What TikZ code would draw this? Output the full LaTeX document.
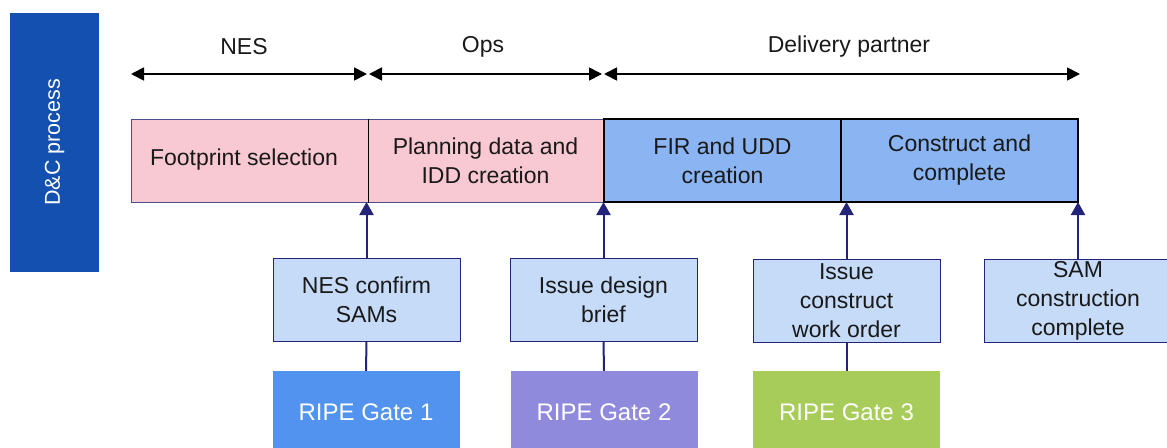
\documentclass[tikz,border=0pt]{standalone}
\usepackage{fontspec}
\setmainfont{Liberation Sans}
\usetikzlibrary{arrows.meta}

\definecolor{dcblue}{HTML}{1450B0}
\definecolor{pinkcell}{HTML}{F9C9D3}
\definecolor{bluecell}{HTML}{8AB4F2}
\definecolor{lightbox}{HTML}{C6DBF8}
\definecolor{navy}{HTML}{23237A}
\definecolor{pinkedge}{HTML}{4A4E8C}
\definecolor{gateone}{HTML}{5193EE}
\definecolor{gatetwo}{HTML}{8F8ADB}
\definecolor{gatethree}{HTML}{A8CC5A}

\tikzset{
  txt/.style={font=\fontsize{23}{29}\selectfont, text=black!90, align=center},
  cell/.style={txt, rectangle, minimum width=237pt, minimum height=83pt, inner sep=0pt},
  pinkbox/.style={cell, fill=pinkcell, draw=pinkedge, line width=1pt},
  bluebox/.style={cell, fill=bluecell, draw=black, line width=1.2pt},
  eventbox/.style={txt, rectangle, fill=lightbox, draw=navy, line width=1pt,
    minimum width=187pt, minimum height=83pt, inner sep=0pt},
  gatebox/.style={txt, rectangle, text=white, minimum width=187pt, minimum height=83pt,
    inner sep=0pt, font=\fontsize{24}{28}\selectfont},
  span/.style={line width=1.8pt, {Triangle[length=13pt,width=13pt]}-{Triangle[length=13pt,width=13pt]}},
  trigger/.style={navy, line width=2pt, -{Triangle[length=13pt,width=14pt]}},
  feed/.style={navy, line width=2pt},
}

\begin{document}
\begin{tikzpicture}[x=1pt,y=-1pt]
\useasboundingbox (0,0) rectangle (1167,447);
\clip (0,0) rectangle (1167,447);

% side banner
\node[rectangle, fill=dcblue, minimum width=89pt, minimum height=259pt, inner sep=0pt]
  (side) at (54.5,142.5) {};
\node[rotate=90, text=white, font=\fontsize{21.5}{25}\selectfont] (sidetxt) at (side.center) {D\&C process};

% ownership spans
\coordinate (nesL) at (131,74);
\coordinate (nesR) at (367,74);
\coordinate (opsL) at (369,74);
\coordinate (opsR) at (602,74);
\coordinate (dpL) at (604,74);
\coordinate (dpR) at (1080,74);
\draw[span] (nesL) -- (nesR);
\draw[span] (opsL) -- (opsR);
\draw[span] (dpL) -- (dpR);
\node[txt] (nes) at (244,47) {NES};
\node[txt] (ops) at (483,47) {Ops};
\node[txt] (dp) at (849,47) {Delivery partner};

% process stages
\node[pinkbox] (s1) at (249.5,160.5) {};
\node[txt] (s1txt) at (244,160) {Footprint selection};
\node[pinkbox, minimum width=235pt] (s2) at (485.5,160.5) {Planning data and\\IDD creation};
\node[bluebox] (s3) at (722.5,160.5) {FIR and UDD\\creation};
\node[bluebox] (s4) at (959.5,160.5) {Construct and\\complete};
\draw[black, line width=1.2pt] (s1.north east) -- (s1.south east);

% triggering events
\node[eventbox] (e1) at (366.5,299.5) {NES confirm\\SAMs};
\node[eventbox] (e2) at (603.5,299.5) {Issue design\\brief};
\node[eventbox] (e3) at (846.5,300.5) {Issue\\construct\\work order};
\node[eventbox] (e4) at (1078,300.5) {SAM\\construction\\complete};

\coordinate (t1) at (366.5,202);
\coordinate (t2) at (603.5,202);
\coordinate (t3) at (846.5,202);
\coordinate (t4) at (1078,202);
\draw[trigger] (e1.north) -- (t1);
\draw[trigger] (e2.north) -- (t2);
\draw[trigger] (e3.north) -- (t3);
\draw[trigger] (e4.north) -- (t4);

% RIPE gates
\node[gatebox, fill=gateone] (g1) at (366,412.5) {RIPE Gate 1};
\node[gatebox, fill=gatetwo] (g2) at (604,412.5) {RIPE Gate 2};
\node[gatebox, fill=gatethree] (g3) at (846.5,412.5) {RIPE Gate 3};
\draw[feed] (g1.north) -- (e1.south);
\draw[feed] (g2.north) -- (e2.south);
\draw[feed] (g3.north) -- (e3.south);
\end{tikzpicture}
\end{document}
